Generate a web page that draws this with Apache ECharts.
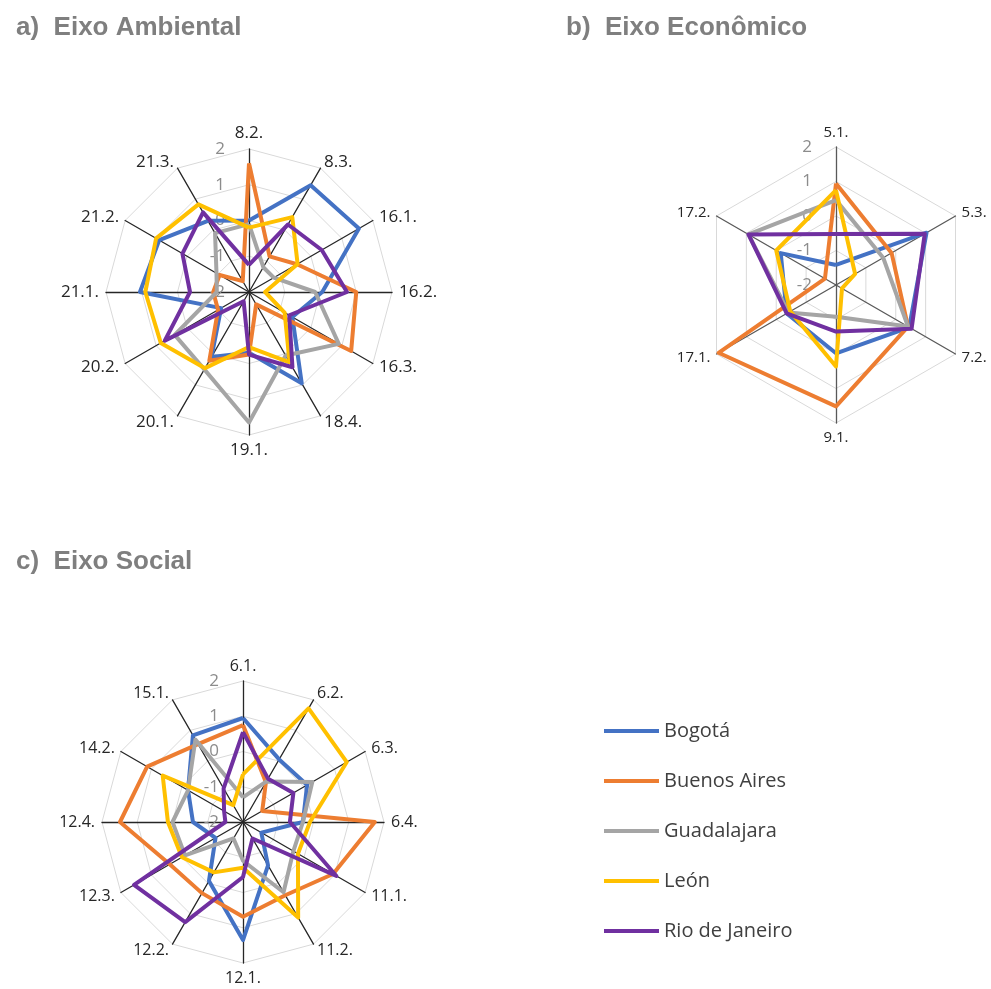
<!DOCTYPE html>
<html>
<head>
<meta charset="utf-8">
<script src="https://cdn.jsdelivr.net/npm/echarts@6/dist/echarts.min.js"></script>
<style>
  html, body { margin: 0; padding: 0; background: #fff; }
  #chart { width: 991px; height: 989px; }
</style>
</head>
<body>
<div id="chart"></div>
<script>
var cities = ['Bogotá', 'Buenos Aires', 'Guadalajara', 'León', 'Rio de Janeiro'];
var colors = ['#4472C4', '#ED7D31', '#A5A5A5', '#FFC000', '#7030A0'];
var ringLabels = ['-2', '-1', '0', '1', '2'];

// a) Eixo Ambiental
var ambAxes = ['8.2.', '8.3.', '16.1.', '16.2.', '16.3.', '18.4.', '19.1.', '20.1.', '20.2.', '21.1.', '21.2.', '21.3.'];
var ambBogota = [0.0, 1.45, 1.55, 0.05, -0.6, 0.95, -0.3, 0.1, -1.1, 1.05, 0.9, 0.3];
var ambBuenosAires = [1.6, -0.85, -0.45, 1.0, 1.3, -1.6, -0.25, 0.22, -1.0, -1.0, -1.05, -1.65];
var ambGuadalajara = [-0.1, -1.2, -1.2, -0.15, 0.9, 0.05, 1.65, 0.5, 0.4, -1.1, -0.95, -0.1];
var ambLeon = [-0.2, 0.42, -0.43, -1.55, -0.85, 0.27, -0.46, 0.46, 0.85, 0.9, 1.0, 0.83];
var ambRio = [-1.24, 0.18, 0.35, 0.74, -0.7, 0.43, -0.25, -1.7, 0.72, -0.35, 0.15, 0.57];

// b) Eixo Econômico
var ecoAxes = ['5.1.', '5.3.', '7.2.', '9.1.', '17.1.', '17.2.'];
var ecoBogota = [-1.42, 1.03, 0.45, -0.02, -0.35, -0.15];
var ecoBuenosAires = [0.94, -0.14, 0.41, 1.52, 1.93, -1.63];
var ecoGuadalajara = [0.46, -0.42, 0.41, -1.08, -0.41, 0.93];
var ecoLeon = [0.75, -1.36, -1.8, 0.36, -0.47, 0.0];
var ecoRio = [-0.52, 0.97, 0.53, -0.65, -0.35, 0.93];

// c) Eixo Social
var socAxes = ['6.1.', '6.2.', '6.3.', '6.4.', '11.1.', '11.2.', '12.1.', '12.2.', '12.3.', '12.4.', '14.2.', '15.1.'];
var socBogota = [0.95, 0.05, 0.1, -0.3, -1.4, -0.58, 1.35, -0.07, -1.1, -0.58, -0.2, 0.84];
var socBuenosAires = [0.75, -0.7, -1.37, 1.74, 0.95, 0.4, 0.69, 0.33, 0.4, 1.49, 1.14, 0.55];
var socGuadalajara = [-1.3, -0.67, 0.27, -0.3, -0.35, 0.3, -0.9, -1.46, -0.1, 0.0, -0.2, 0.7];
var socLeon = [-0.65, 1.72, 1.4, -0.1, -0.2, 1.13, -0.7, -0.35, 0.0, 0.13, 0.63, -1.45];
var socRio = [0.55, -0.58, -0.35, -0.67, 1.06, -1.46, -0.44, 1.28, 1.57, -1.5, -1.38, -0.9];

var panels = [
    {axes: ambAxes, data: [ambBogota, ambBuenosAires, ambGuadalajara, ambLeon, ambRio],
     center: [249, 292], radius: 143, nameSize: 17, axisColor: '#262626'},
    {axes: ecoAxes, data: [ecoBogota, ecoBuenosAires, ecoGuadalajara, ecoLeon, ecoRio],
     center: [836, 285], radius: 138, nameSize: 15, axisColor: '#595959'},
    {axes: socAxes, data: [socBogota, socBuenosAires, socGuadalajara, socLeon, socRio],
     center: [243, 822], radius: 141, nameSize: 16, axisColor: '#262626'}
];

// echarts lays radar axes out counter-clockwise, the source runs clockwise
function clockwise(arr) {
    var out = [arr[0]];
    for (var i = arr.length - 1; i > 0; i--) out.push(arr[i]);
    return out;
}

var radar = [], polar = [], angleAxis = [], radiusAxis = [], series = [];

panels.forEach(function (p, pi) {
    radar.push({
        center: p.center,
        radius: p.radius,
        startAngle: 90,
        shape: 'polygon',
        splitNumber: 4,
        indicator: clockwise(p.axes).map(function (n) { return {name: n, min: -2, max: 2}; }),
        axisName: {color: '#262626', fontSize: p.nameSize, fontFamily: 'Open Sans'},
        nameGap: 7,
        axisLine: {lineStyle: {color: p.axisColor, width: 1.3}},
        splitLine: {lineStyle: {color: '#d9d9d9', width: 1}},
        splitArea: {show: false}
    });
    polar.push({center: p.center, radius: p.radius});
    angleAxis.push({polarIndex: pi, startAngle: 90, show: false, min: 0, max: 360});
    radiusAxis.push({
        polarIndex: pi, min: -2, max: 2, interval: 1,
        axisLine: {show: false}, axisTick: {show: false}, splitLine: {show: false},
        axisLabel: {color: '#8c8c8c', fontSize: 17, fontFamily: 'Open Sans', margin: 24,
            formatter: function (v) { return ringLabels[v + 2]; }}
    });
    p.data.forEach(function (vals, ci) {
        series.push({
            type: 'radar',
            radarIndex: pi,
            name: cities[ci],
            symbol: 'none',
            silent: true,
            color: colors[ci],
            lineStyle: {width: 4, color: colors[ci]},
            data: [{name: cities[ci], value: clockwise(vals)}]
        });
    });
});

var chart = echarts.init(document.getElementById('chart'));

var titleStyle = {fontSize: 26, fontWeight: 'bold', color: '#7f7f7f', fontFamily: 'Liberation Sans'};

chart.setOption({
    animation: false,
    title: [
        {text: 'a)  Eixo Ambiental', left: 11, top: 10, textStyle: titleStyle},
        {text: 'b)  Eixo Econômico', left: 561, top: 10, textStyle: titleStyle},
        {text: 'c)  Eixo Social', left: 11, top: 544, textStyle: titleStyle}
    ],
    legend: {
        data: cities,
        orient: 'vertical',
        left: 599,
        top: 716,
        icon: 'rect',
        itemWidth: 55,
        itemHeight: 4,
        itemGap: 30,
        textStyle: {fontSize: 20, lineHeight: 20, color: '#404040', fontFamily: 'Open Sans'}
    },
    radar: radar,
    polar: polar,
    angleAxis: angleAxis,
    radiusAxis: radiusAxis,
    series: series
});
</script>
</body>
</html>
